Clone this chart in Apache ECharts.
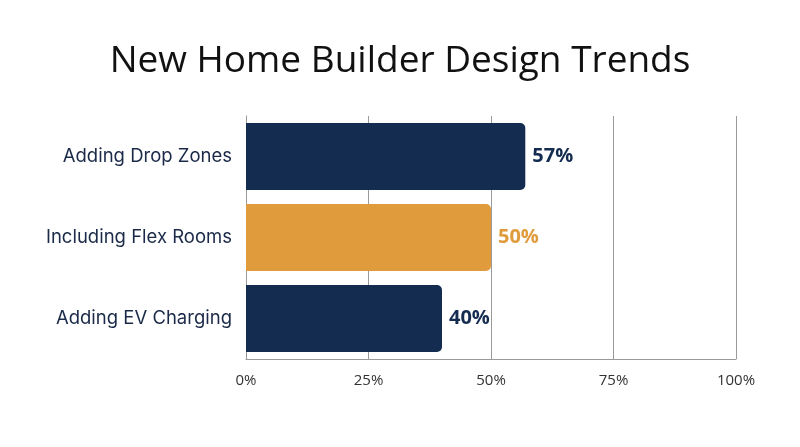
<!DOCTYPE html>
<html>
<head>
<meta charset="utf-8">
<script src="https://cdn.jsdelivr.net/npm/echarts@6/dist/echarts.min.js"></script>
<style>
  html, body { margin: 0; padding: 0; background: #fff; }
  #main { width: 800px; height: 447px; }
</style>
</head>
<body>
<div id="main"></div>
<script>
var categories = ['Adding Drop Zones', 'Including Flex Rooms', 'Adding EV Charging'];
var values = [57, 50, 40];
var barColors = ['#152c51', '#e09b3d', '#152c51'];
var tickLabels = ['0%', '25%', '50%', '75%', '100%'];

var myChart = echarts.init(document.getElementById('main'));

var option = {
    backgroundColor: '#ffffff',
    animation: false,
    title: {
        text: 'New Home Builder Design Trends',
        left: 'center',
        top: 38,
        textStyle: {
            fontFamily: 'Open Sans',
            fontWeight: 'normal',
            fontSize: 37,
            color: '#111111'
        }
    },
    grid: {
        left: 246,
        right: 64,
        top: 116,
        bottom: 88,
        containLabel: false
    },
    xAxis: {
        type: 'value',
        min: 0,
        max: 100,
        interval: 25,
        axisLine: { show: true, lineStyle: { color: '#9a9a9a', width: 1 } },
        axisTick: { show: false },
        splitLine: { show: true, lineStyle: { color: '#9a9a9a', width: 1 } },
        axisLabel: {
            margin: 14,
            fontFamily: 'Open Sans',
            fontSize: 15,
            color: '#333333',
            formatter: function (v) { return tickLabels[v / 25]; }
        }
    },
    yAxis: {
        type: 'category',
        inverse: true,
        data: categories,
        axisLine: { show: true, lineStyle: { color: '#9a9a9a', width: 1 } },
        axisTick: { show: false },
        axisLabel: {
            margin: 14,
            fontFamily: 'Inter',
            fontSize: 18.5,
            color: '#1b2a48'
        }
    },
    series: [{
        type: 'bar',
        barWidth: 67,
        data: values.map(function (v, i) {
            return {
                value: v,
                itemStyle: { color: barColors[i], borderRadius: [0, 5, 5, 0] },
                label: { color: barColors[i] }
            };
        }),
        label: {
            show: true,
            position: 'right',
            distance: 7,
            fontFamily: 'Open Sans',
            fontWeight: 'bold',
            fontSize: 20,
            formatter: '{c}%'
        }
    }]
};

myChart.setOption(option);
</script>
</body>
</html>
